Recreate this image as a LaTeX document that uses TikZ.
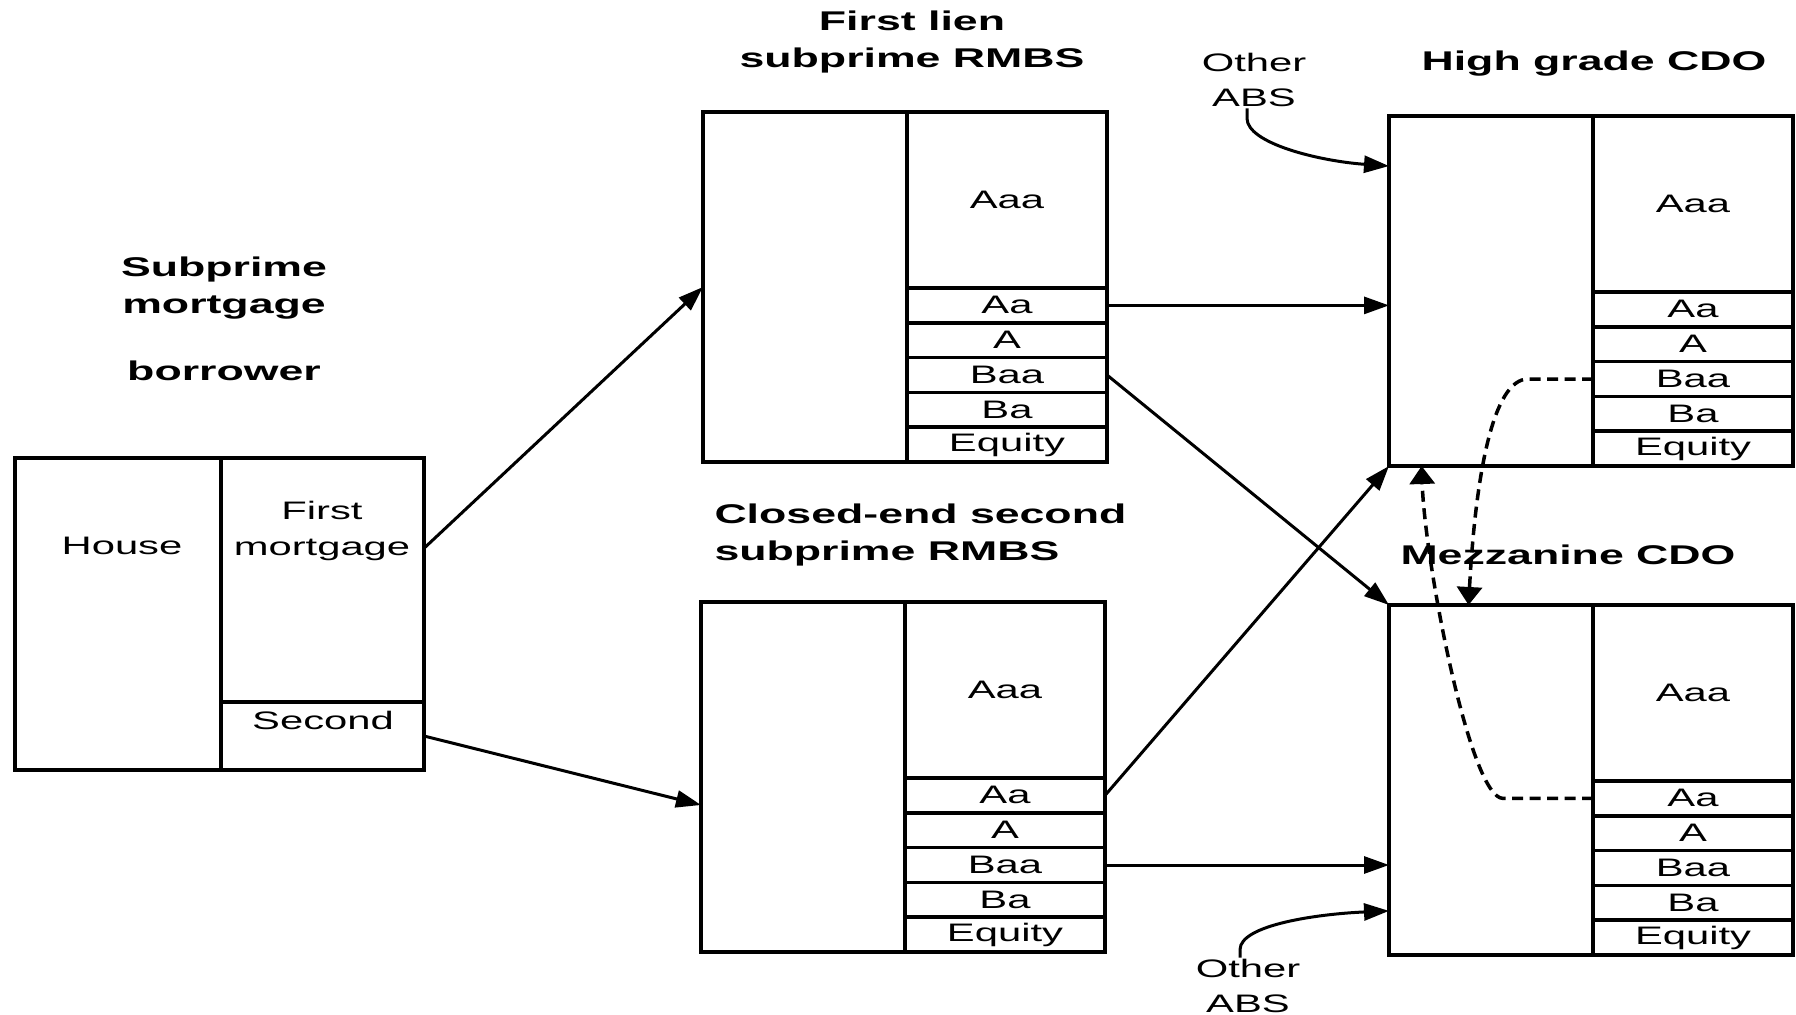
\documentclass[tikz,border=0pt]{standalone}
\usepackage{fontspec}
\setmainfont{Liberation Sans}[FakeStretch=1.65]
\usetikzlibrary{arrows.meta, positioning, calc}
\newcommand{\lblfont}{\fontsize{14.4}{20}\selectfont}
\newcommand{\ttlfont}{\fontsize{15.4}{21}\selectfont\bfseries}

\begin{document}
\begin{tikzpicture}[x=0.2mm, y=-0.2mm, line width=0.6mm,
  box/.style={draw, line width=0.7mm, inner sep=0, outer sep=0},
  pool/.style={box, anchor=north west, minimum width=40.8mm, minimum height=70mm},
  senior/.style={box, minimum width=40mm, minimum height=35.2mm, font=\lblfont},
  tranche/.style={box, minimum width=40mm, minimum height=6.96mm, font=\lblfont},
  lbl/.style={inner sep=0, align=center, font=\lblfont},
  ttl/.style={inner sep=0, align=center, font=\ttlfont},
  arr/.style={-{Triangle[length=5mm, width=3.4mm]}},
  darr/.style={dash pattern=on 2.2mm off 1.3mm, line width=0.7mm, -{Triangle[length=3.6mm, width=5mm]}}
]
  \useasboundingbox (0,0) rectangle (1796,1015);

  % borrower
  \node[box, anchor=north west, minimum width=41.2mm, minimum height=62.4mm] (house) at (15,458) {};
  \node[box, anchor=north west, minimum width=40.6mm, minimum height=48.8mm] (first) at (house.north east) {};
  \node[box, below=0pt of first, minimum width=40.6mm, minimum height=13.6mm] (second) {};
  \node[lbl] (houselbl) at (122,546) {House};
  \node[lbl] (firstlbl) at (322,531) {First\\mortgage};
  \node[lbl] (secondlbl) at (323,720) {Second};
  \node[ttl] (borrower) at (224,319) {Subprime\\mortgage\\[6mm]borrower};

  % deals and their tranches
  \foreach \nm/\px/\py in {fl/703/112, ce/701/602, hg/1389/116, mz/1389/605}{
    \node[pool] (\nm) at (\px,\py) {};
    \node[senior, anchor=north west] (\nm-Aaa) at (\nm.north east) {Aaa};
    \foreach \r [remember=\r as \p (initially Aaa)] in {Aa,A,Baa,Ba,Equity}
      \node[tranche, below=0pt of \nm-\p] (\nm-\r) {\r};
  }

  \node[ttl] (fltitle) at (912,42) {First lien\\subprime RMBS};
  \node[ttl, align=left, anchor=west] (cetitle) at (713,535) {Closed-end second\\subprime RMBS};
  \node[ttl] (hgtitle) at (1594,64) {High grade CDO};
  \node[ttl] (mztitle) at (1568,555) {Mezzanine CDO};
  \node[lbl] (abs1) at (1254,80) {Other\\ABS};
  \node[lbl] (abs2) at (1248,986) {Other\\ABS};

  % flows
  \draw[arr] ($(first.north east)!0.37!(first.south east)$) -- (fl.west);
  \draw[arr] (second.east) -- ($(ce.north west)!0.58!(ce.south west)$);
  \draw[arr] (fl-Aa.east) -- (fl-Aa.east -| hg.west);
  \draw[arr] (fl-Baa.east) -- (mz.north west);
  \draw[arr] (ce-Aa.east) -- (hg.south west);
  \draw[arr] (ce-Baa.east) -- (ce-Baa.east -| mz.west);
  \draw[arr] ([xshift=-1.4mm]abs1.south) -- ++(0,10) .. controls +(0,25) and +(-70,-5) .. ($(hg.north west)!0.143!(hg.south west)$);
  \draw[arr] ([xshift=-1.6mm]abs2.north) -- ++(0,-8) .. controls +(0,-25) and +(-70,3) .. ($(mz.north west)!0.874!(mz.south west)$);

  % CDO tranches bought back by the other CDO
  \draw[darr] (hg-Baa.west) -- ++(-65,0) .. controls +(-35,0) and +(7,-130) .. ($(mz.north west)!0.39!(mz.north east)$);
  \draw[darr] (mz-Aa.west) -- ++(-90,0) .. controls +(-33,0) and +(3,95) .. ($(hg.south west)!0.16!(hg.south east)$);
\end{tikzpicture}
\end{document}
